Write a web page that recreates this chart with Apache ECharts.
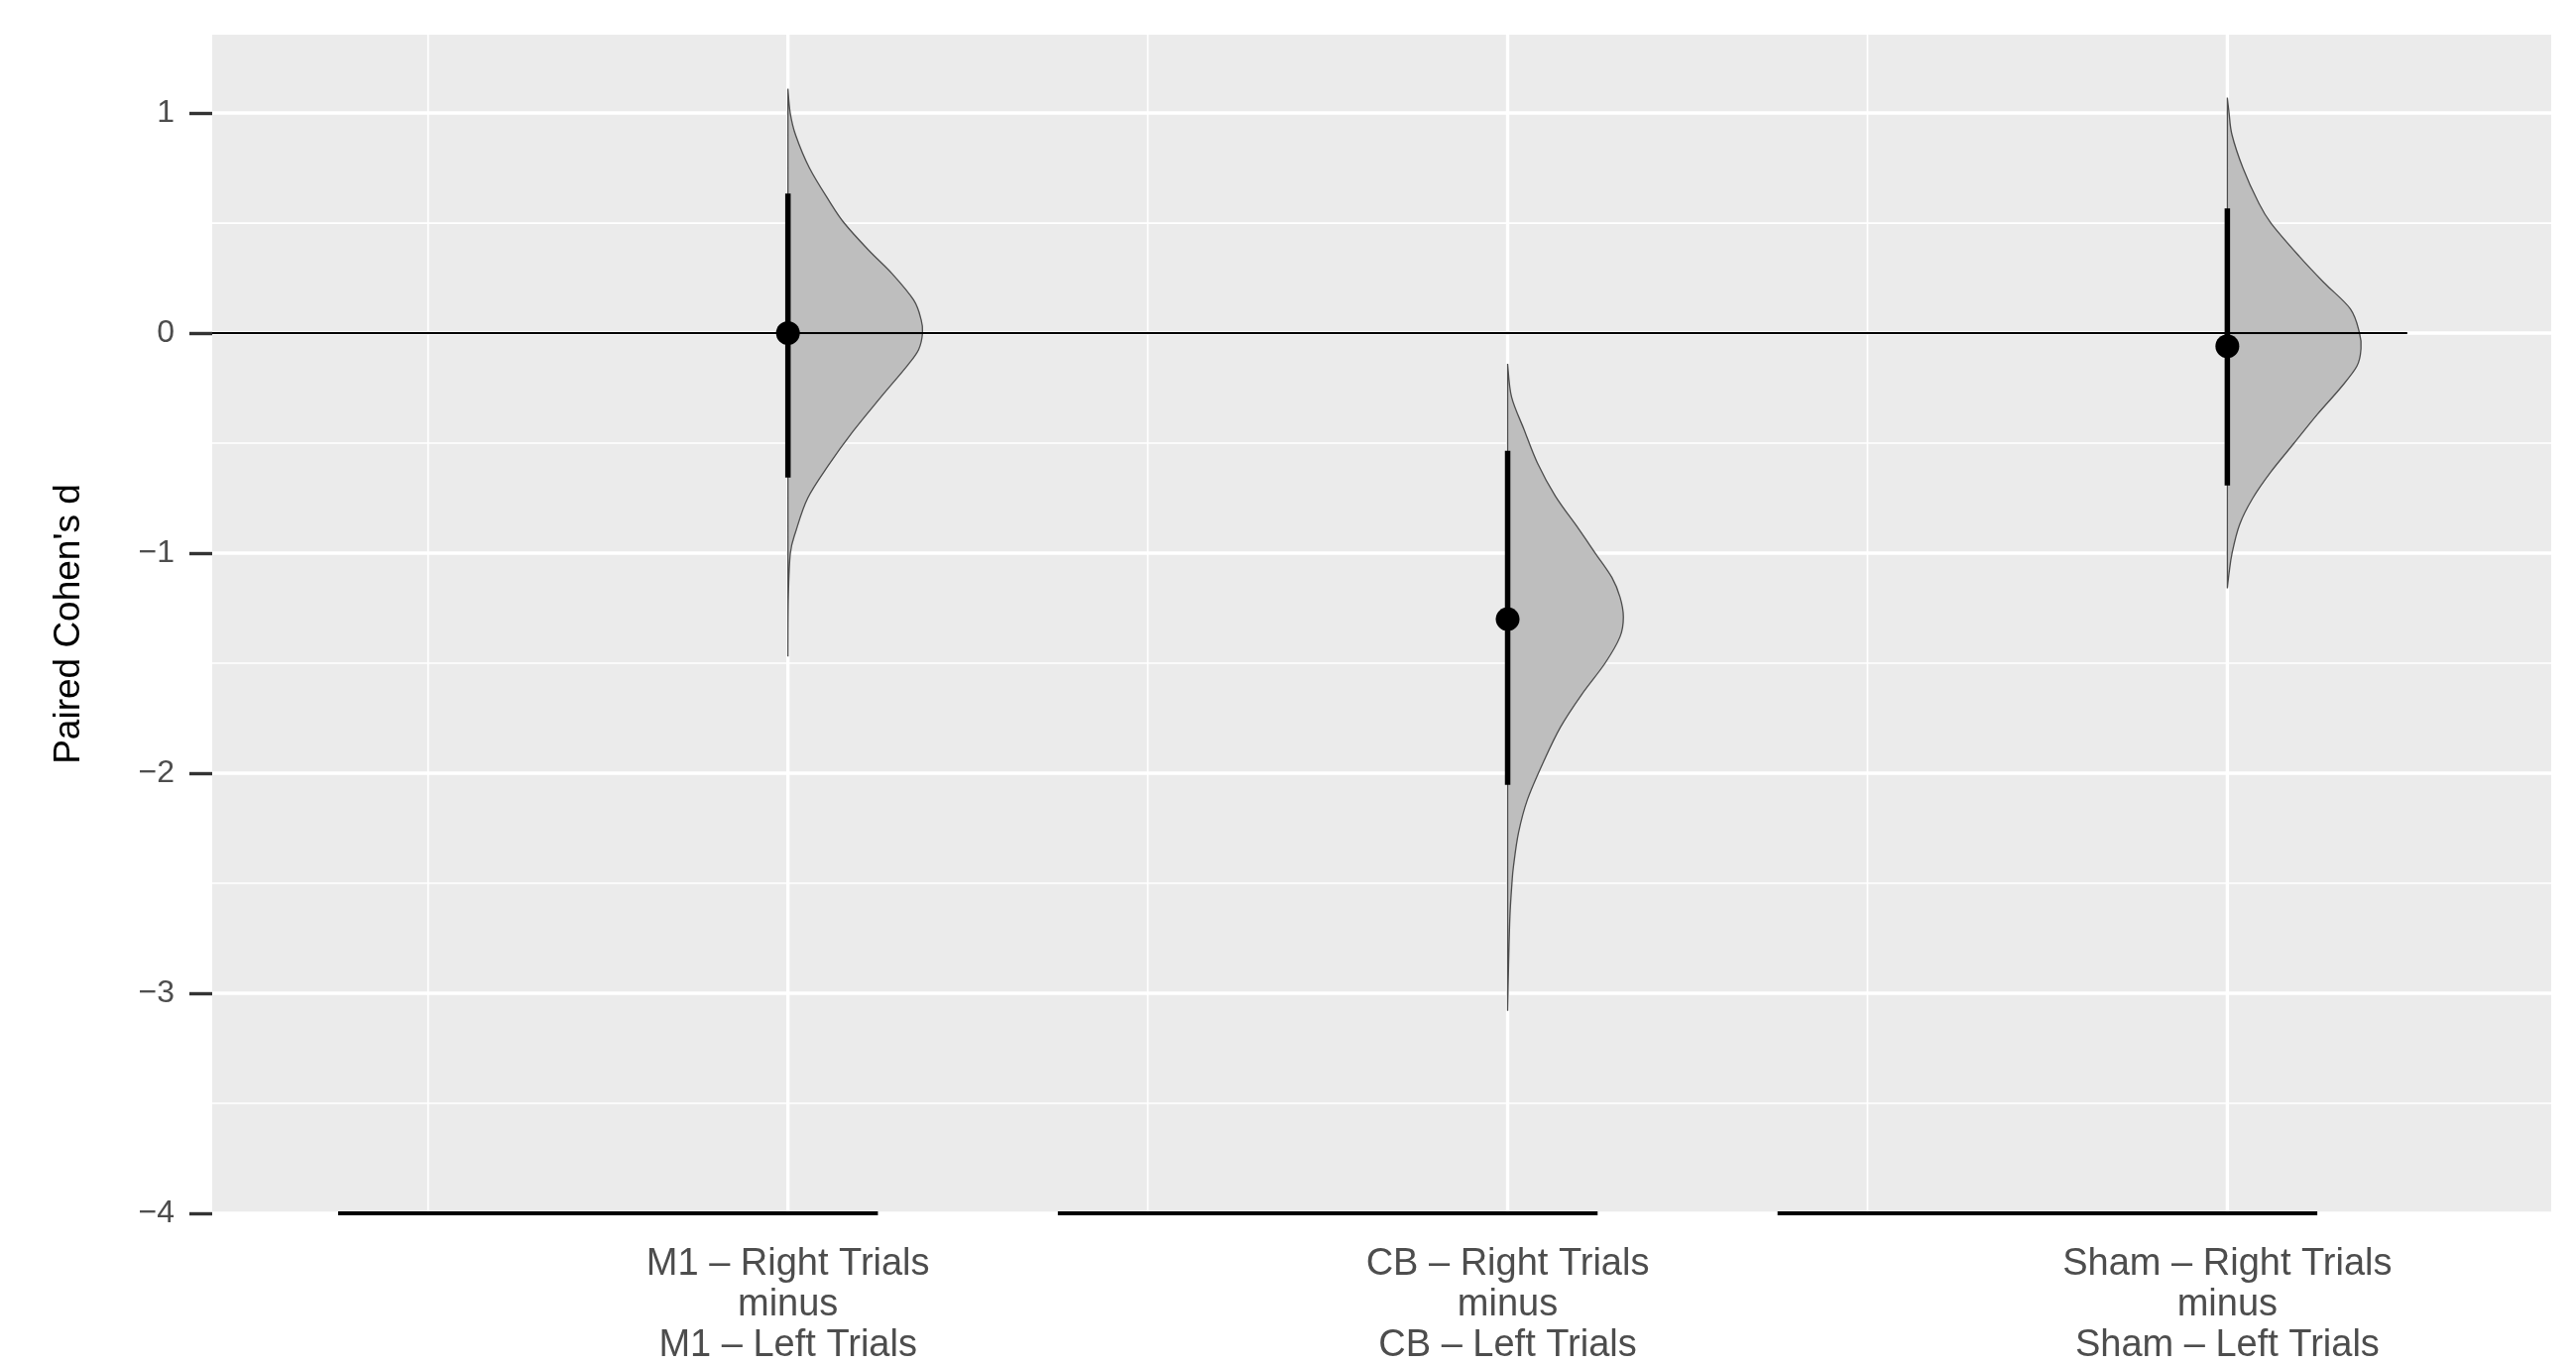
<!DOCTYPE html>
<html>
<head>
<meta charset="utf-8">
<script src="https://cdn.jsdelivr.net/npm/echarts@6/dist/echarts.min.js"></script>
<style>
  html, body { margin: 0; padding: 0; background: #ffffff; }
  #chart { width: 2598px; height: 1376px; }
</style>
</head>
<body>
<div id="chart"></div>
<script>
// ---------------- data ----------------
const categories = [
  "M1 – Right Trials\nminus\nM1 – Left Trials",
  "CB – Right Trials\nminus\nCB – Left Trials",
  "Sham – Right Trials\nminus\nSham – Left Trials"
];
const xPositions = [1, 2, 3];
const pointEstimates = [0.0, -1.30, -0.06];
const ciLower = [-0.657, -2.053, -0.693];
const ciUpper = [0.634, -0.535, 0.567];

// density profiles (value, relative density)
const m1DensY = [1.11, 1.0, 0.9, 0.75, 0.6, 0.5, 0.375, 0.27, 0.15, 0.06, 0.0, -0.075, -0.15, -0.3, -0.45, -0.6, -0.75, -0.9, -1.0, -1.2, -1.47];
const m1Dens  = [0, 0.017, 0.057, 0.16, 0.307, 0.418, 0.602, 0.774, 0.934, 0.99, 1.0, 0.971, 0.884, 0.678, 0.479, 0.302, 0.147, 0.059, 0.018, 0.003, 0];
const cbDensY = [-0.14, -0.29, -0.44, -0.59, -0.74, -0.89, -1.0, -1.11, -1.2, -1.29, -1.38, -1.5, -1.64, -1.79, -1.95, -2.12, -2.27, -2.42, -2.5, -2.65, -2.87, -3.08];
const cbDens  = [0, 0.029, 0.123, 0.221, 0.354, 0.528, 0.651, 0.774, 0.835, 0.86, 0.835, 0.724, 0.553, 0.393, 0.265, 0.147, 0.081, 0.044, 0.032, 0.017, 0.007, 0];
const shamDensY = [1.07, 1.0, 0.9, 0.75, 0.6, 0.5, 0.35, 0.23, 0.11, 0.0, -0.07, -0.15, -0.25, -0.37, -0.5, -0.63, -0.75, -0.87, -1.0, -1.09, -1.16];
const shamDens  = [0, 0.013, 0.035, 0.116, 0.226, 0.324, 0.533, 0.717, 0.914, 0.982, 0.993, 0.963, 0.84, 0.668, 0.496, 0.324, 0.189, 0.091, 0.035, 0.013, 0];

const yTicks = [-4, -3, -2, -1, 0, 1];
const yTickLabels = ['−4', '−3', '−2', '−1', '0', '1'];
const yMinorTicks = [-3.5, -2.5, -1.5, -0.5, 0.5];
const xMinorTicks = [0.5, 1.5, 2.5];

const refLineValue = 0;
const refLineEnd = 3.25;
const baseSegStart = [0.375, 1.375, 2.375];
const baseSegEnd = [1.125, 2.125, 3.125];
const baseSegValue = -4;

// ---------------- layout/style ----------------
const X_MIN = 0.2, X_MAX = 3.45, Y_MIN = -4, Y_MAX = 1.356;
const slabScale = 0.187;
const FONT = "'Liberation Sans', Arial, Helvetica, sans-serif";

const densY = [m1DensY, cbDensY, shamDensY];
const dens = [m1Dens, cbDens, shamDens];

const gridData = []
  .concat(xPositions.map(v => [0, v]))
  .concat(xMinorTicks.map(v => [1, v]))
  .concat(yTicks.map(v => [2, v]))
  .concat(yMinorTicks.map(v => [3, v]));

// smooth outline through the read points (Catmull-Rom drawn as cubic Beziers)
function smoothPath(pts, baseX) {
  const n = pts.length;
  let d = 'M' + pts[0][0].toFixed(2) + ',' + pts[0][1].toFixed(2);
  for (let i = 0; i < n - 1; i++) {
    const p0 = pts[Math.max(0, i - 1)], p1 = pts[i], p2 = pts[i + 1], p3 = pts[Math.min(n - 1, i + 2)];
    let c1x = p1[0] + (p2[0] - p0[0]) / 6, c1y = p1[1] + (p2[1] - p0[1]) / 6;
    let c2x = p2[0] - (p3[0] - p1[0]) / 6, c2y = p2[1] - (p3[1] - p1[1]) / 6;
    c1x = Math.max(c1x, baseX); c2x = Math.max(c2x, baseX);
    d += ' C' + c1x.toFixed(2) + ',' + c1y.toFixed(2) + ' ' + c2x.toFixed(2) + ',' + c2y.toFixed(2) + ' ' + p2[0].toFixed(2) + ',' + p2[1].toFixed(2);
  }
  d += ' L' + baseX.toFixed(2) + ',' + pts[0][1].toFixed(2) + ' Z';
  return d;
}

const chart = echarts.init(document.getElementById('chart'), null, { renderer: 'canvas' });

const option = {
  backgroundColor: '#ffffff',
  animation: false,
  textStyle: { fontFamily: FONT },
  grid: {
    left: 214, top: 35, right: 25, bottom: 152,
    show: true, backgroundColor: '#EBEBEB', borderWidth: 0,
    containLabel: false, outerBoundsMode: 'none'
  },
  xAxis: {
    type: 'value', min: X_MIN, max: X_MAX,
    axisLine: { show: false },
    axisTick: { show: false },
    splitLine: { show: false },
    axisLabel: {
      customValues: xPositions,
      formatter: function (v) {
        const i = xPositions.indexOf(Math.round(v));
        return i >= 0 ? categories[i] : '';
      },
      color: '#4D4D4D', fontSize: 38, lineHeight: 41, margin: 31,
      fontFamily: FONT
    }
  },
  yAxis: {
    type: 'value', min: Y_MIN, max: Y_MAX,
    name: "Paired Cohen's d", nameLocation: 'middle', nameRotate: 90, nameGap: 126,
    nameTextStyle: { color: '#000000', fontSize: 37, fontFamily: FONT },
    axisLine: { show: false },
    splitLine: { show: false },
    axisTick: {
      show: true, customValues: yTicks, length: 23,
      lineStyle: { color: '#333333', width: 3.4 }
    },
    axisLabel: {
      customValues: yTicks,
      formatter: function (v) {
        const i = yTicks.indexOf(Math.round(v));
        return i >= 0 ? yTickLabels[i] : '';
      },
      color: '#4D4D4D', fontSize: 32, margin: 38, fontFamily: FONT
    }
  },
  series: [
    // panel grid lines
    {
      type: 'custom', z: 1, silent: true,
      data: gridData,
      renderItem: function (params, api) {
        const kind = api.value(0), v = api.value(1);
        const cs = params.coordSys;
        const major = (kind === 0 || kind === 2);
        if (kind <= 1) {
          const p = api.coord([v, 0]);
          return { type: 'line', shape: { x1: p[0], y1: cs.y, x2: p[0], y2: cs.y + cs.height },
                   style: { stroke: '#ffffff', lineWidth: major ? 3.4 : 1.7 } };
        } else {
          const p = api.coord([X_MIN, v]);
          return { type: 'line', shape: { x1: cs.x, y1: p[1], x2: cs.x + cs.width, y2: p[1] },
                   style: { stroke: '#ffffff', lineWidth: major ? 3.4 : 1.7 } };
        }
      }
    },
    // half-eye slabs
    {
      type: 'custom', z: 2, silent: true,
      data: xPositions.map((x, i) => [x, pointEstimates[i], i]),
      renderItem: function (params, api) {
        const x = api.value(0), i = api.value(2);
        const ys = densY[i], ds = dens[i];
        const pts = ys.map((y, k) => api.coord([x + ds[k] * slabScale, y]));
        const baseX = api.coord([x, 0])[0];
        return {
          type: 'path',
          shape: { pathData: smoothPath(pts, baseX) },
          style: { fill: '#BEBEBE', stroke: '#4D4D4D', lineWidth: 1.3 }
        };
      }
    },
    // zero reference line
    {
      type: 'line', z: 3, silent: true, symbol: 'none',
      data: [[X_MIN, refLineValue], [refLineEnd, refLineValue]],
      lineStyle: { color: '#000000', width: 2 }
    },
    // bottom segments
    {
      type: 'custom', z: 3, silent: true, clip: false,
      data: baseSegStart.map((s, i) => [s, baseSegEnd[i]]),
      renderItem: function (params, api) {
        const p1 = api.coord([api.value(0), baseSegValue]);
        const p2 = api.coord([api.value(1), baseSegValue]);
        return { type: 'line', shape: { x1: p1[0], y1: p1[1], x2: p2[0], y2: p2[1] },
                 style: { stroke: '#000000', lineWidth: 4 } };
      }
    },
    // intervals
    {
      type: 'custom', z: 4, silent: true,
      data: xPositions.map((x, i) => [x, ciLower[i], ciUpper[i]]),
      renderItem: function (params, api) {
        const p1 = api.coord([api.value(0), api.value(1)]);
        const p2 = api.coord([api.value(0), api.value(2)]);
        return { type: 'line', shape: { x1: p1[0], y1: p1[1], x2: p2[0], y2: p2[1] },
                 style: { stroke: '#000000', lineWidth: 5.5, lineCap: 'butt' } };
      }
    },
    // point estimates
    {
      type: 'scatter', z: 5, silent: true,
      data: xPositions.map((x, i) => [x, pointEstimates[i]]),
      symbol: 'circle', symbolSize: 24,
      itemStyle: { color: '#000000', opacity: 1 }
    }
  ]
};
chart.setOption(option);
</script>
</body>
</html>
